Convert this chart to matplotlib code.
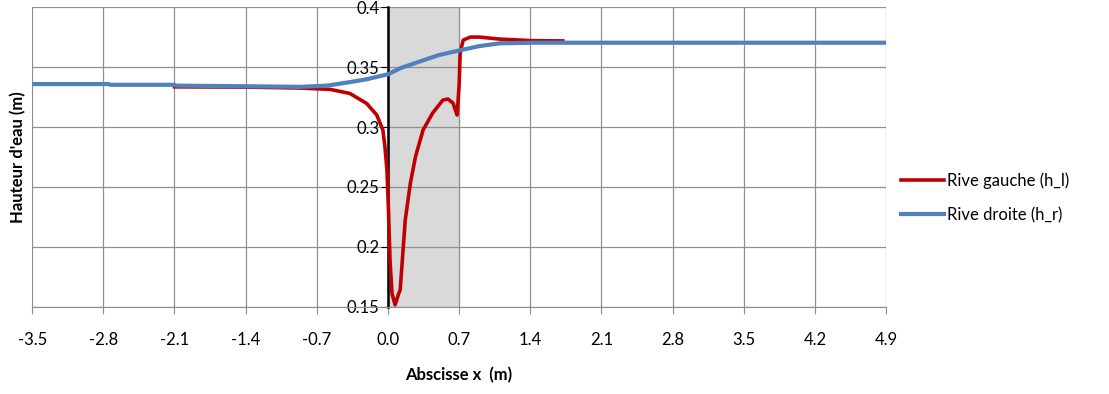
import numpy as np
import matplotlib.pyplot as plt
from matplotlib.ticker import FuncFormatter

# rive gauche (h_l)
x_left = [-2.1, -1.4, -0.865, -0.57, -0.375, -0.21, -0.11, -0.05, -0.03, -0.01, 0.005, 0.02,
          0.04, 0.07, 0.105, 0.12, 0.17, 0.22, 0.27, 0.345, 0.44, 0.54, 0.59, 0.64, 0.68,
          0.70, 0.71, 0.74, 0.81, 0.9, 1.1, 1.43, 1.72]
h_left = [0.3335, 0.3333, 0.3325, 0.3314, 0.328, 0.3197, 0.310, 0.2975, 0.2836, 0.264, 0.231, 0.189,
          0.161, 0.1517, 0.161, 0.164, 0.2225, 0.253, 0.275, 0.2975, 0.3117, 0.3225, 0.3233, 0.32, 0.310,
          0.335, 0.3617, 0.3725, 0.375, 0.375, 0.3733, 0.372, 0.3718]

# rive droite (h_r)
x_right = [-3.5, -2.75, -2.73, -2.1, -2.08, -1.4, -0.865, -0.6, -0.37, -0.2, 0.0, 0.12, 0.29,
           0.5, 0.71, 0.9, 1.1, 1.43, 2.0, 3.0, 4.0, 4.9]
h_right = [0.3358, 0.3358, 0.3352, 0.3352, 0.3345, 0.3340, 0.3335, 0.3345, 0.3375, 0.340, 0.344, 0.349, 0.354,
           0.360, 0.364, 0.3675, 0.3698, 0.3703, 0.3703, 0.3703, 0.3703, 0.3703]

xticks = np.round(np.arange(-3.5, 4.91, 0.7), 1)
yticks = [0.15, 0.2, 0.25, 0.3, 0.35, 0.4]

plt.rcParams['font.family'] = ['Lato', 'DejaVu Sans']
fs = 12

fig = plt.figure(figsize=(11.09, 3.94), dpi=100)
ax = fig.add_axes([0.029, 0.221, 0.770, 0.761])

ax.axvspan(0, 0.7, color='#d9d9d9', zorder=0)
ax.plot(x_left, h_left, color='#c00000', lw=2.6, label='Rive gauche (h_l)', zorder=3)
ax.plot(x_right, h_right, color='#4f81bd', lw=3, label='Rive droite (h_r)', zorder=4)

ax.set_xlim(-3.5, 4.9)
ax.set_ylim(0.15, 0.4)
ax.set_xticks(xticks)
ax.set_yticks(yticks)
ax.xaxis.set_major_formatter(FuncFormatter(lambda v, p: '%.1f' % v))
ax.yaxis.set_major_formatter(FuncFormatter(lambda v, p: '%g' % v))
ax.grid(True, color='#909090', lw=0.9, zorder=1)
ax.set_axisbelow(True)

for s in ['top', 'right']:
    ax.spines[s].set_visible(False)
ax.spines['left'].set_position(('data', 0))
ax.spines['left'].set_color('black')
ax.spines['left'].set_linewidth(1.8)
ax.spines['left'].set_zorder(2)
ax.spines['bottom'].set_color('#8c8c8c')
ax.tick_params(axis='x', direction='out', length=5, color='#8c8c8c', labelsize=fs, pad=13)
ax.tick_params(axis='y', direction='out', length=5, color='black', labelsize=fs, pad=1)

ax.set_xlabel('Abscisse x  (m)', fontsize=fs, fontweight='bold', labelpad=14)
fig.text(0.016, 0.6, "Hauteur d'eau (m)", rotation=90, fontsize=fs, fontweight='bold',
         ha='center', va='center')

ax.legend(loc='center left', bbox_to_anchor=(1.0, 0.365), frameon=False, fontsize=fs,
          handlelength=2.6, handletextpad=0.15, labelspacing=1.1)

plt.savefig('out.png', dpi=100)
